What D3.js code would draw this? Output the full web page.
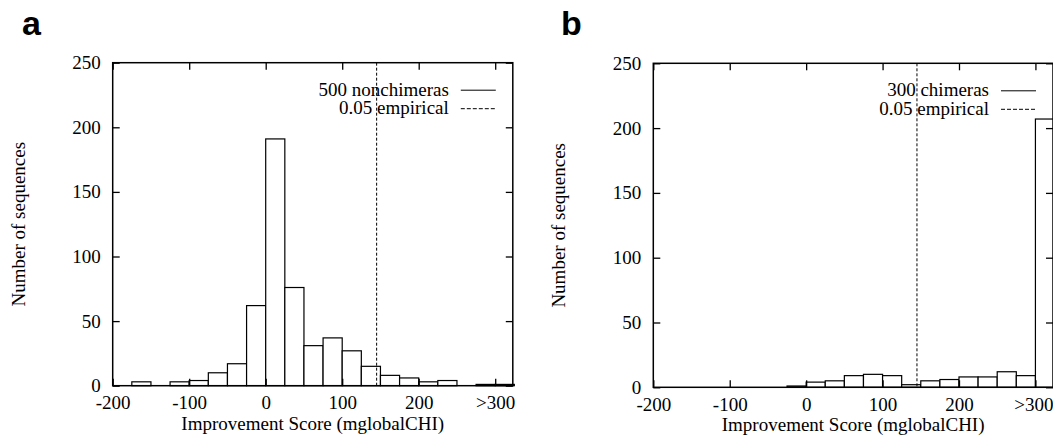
<!DOCTYPE html>
<html>
<head>
<meta charset="utf-8">
<script src="https://cdn.jsdelivr.net/npm/d3@7"></script>
<style>
  body { margin: 0; background: #fff; }
  svg { display: block; }
  text { font-family: "Liberation Serif", "Times New Roman", serif; fill: #000; }
  .panel-tag { font-family: "Liberation Sans", Arial, sans-serif; font-weight: bold; font-size: 34px; }
</style>
</head>
<body>
<svg id="chart" width="1053" height="436"></svg>
<script>
// histogram bins (width 25), last bin is ">300"
const binStarts = [-200, -175, -150, -125, -100, -75, -50, -25, 0, 25, 50, 75, 100, 125, 150, 175, 200, 225, 250, 275, 300]
const binWidth = 25
const nonchimeraCounts = [0, 3, 0, 3, 4, 10, 17, 62, 191, 76, 31, 37, 27, 15, 8, 6, 3, 4, 0, 1, 1]
const chimeraCounts = [0, 0, 0, 0, 0, 0, 0, 1, 4, 5, 9, 10, 9, 2, 5, 6, 8, 8, 12, 9, 207]

const xTicks = [-200, -100, 0, 100, 200, 300]
const xTickLabels = ["-200", "-100", "0", "100", "200", ">300"]
const yTicks = [0, 50, 100, 150, 200, 250]
const threshold = 145   // 0.05 empirical cutoff

const legendA = ["500 nonchimeras", "0.05 empirical"]
const legendB = ["300 chimeras", "0.05 empirical"]

const svg = d3.select('#chart')

const drawPanel = (p) => {
    const g = svg.append('g')

    const x = d3.scaleLinear().domain([-200, 323]).range([p.left, p.right])
    const y = d3.scaleLinear().domain([0, 250]).range([p.bottom, p.top])

    const bins = binStarts.map((b, i) => ({ start: b, count: p.counts[i] }))

    // bars
    g.selectAll('rect.bar')
        .data(bins.filter(d => d.count > 0))
        .enter()
        .append('rect')
        .attr('class', 'bar')
        .attr('x', d => x(d.start))
        .attr('width', d => x(d.start + binWidth) - x(d.start))
        .attr('y', d => y(d.count))
        .attr('height', d => y(0) - y(d.count))
        .attr('fill', '#fff')
        .attr('stroke', '#000')
        .attr('stroke-width', 1.2)

    // threshold line
    g.append('line')
        .attr('x1', x(threshold)).attr('x2', x(threshold))
        .attr('y1', p.top).attr('y2', p.bottom)
        .attr('stroke', '#000')
        .attr('stroke-width', 1)
        .attr('stroke-dasharray', '3,2')

    // axes, ticks on all four sides pointing in
    const fmt = (d) => xTickLabels[xTicks.indexOf(d)]
    const bottom = g.append('g')
        .attr('transform', `translate(0,${p.bottom})`)
        .call(d3.axisBottom(x).tickValues(xTicks).tickFormat(fmt).tickSizeInner(-7).tickSizeOuter(0).tickPadding(10))
    const top = g.append('g')
        .attr('transform', `translate(0,${p.top})`)
        .call(d3.axisTop(x).tickValues(xTicks).tickFormat('').tickSizeInner(-7).tickSizeOuter(0))
    const left = g.append('g')
        .attr('transform', `translate(${p.left},0)`)
        .call(d3.axisLeft(y).tickValues(yTicks).tickSizeInner(-7).tickSizeOuter(0).tickPadding(12))
    const right = g.append('g')
        .attr('transform', `translate(${p.right},0)`)
        .call(d3.axisRight(y).tickValues(yTicks).tickFormat('').tickSizeInner(-7).tickSizeOuter(0))

    ;[bottom, top, left, right].forEach(a => {
        a.select('.domain').remove()
        a.selectAll('line').attr('stroke', '#000').attr('stroke-width', 1.3)
        a.selectAll('text')
            .attr('fill', '#000')
            .style('font-family', '"Liberation Serif", "Times New Roman", serif')
            .style('font-size', '19px')
    })
    // keep the last label inside the page on the right panel
    if (p.right > 1040) {
        bottom.selectAll('.tick text').filter(d => d === 300).attr('dx', -2)
    }

    // frame
    g.append('rect')
        .attr('x', p.left).attr('y', p.top)
        .attr('width', p.right - p.left).attr('height', p.bottom - p.top)
        .attr('fill', 'none')
        .attr('stroke', '#000')
        .attr('stroke-width', 1.5)

    // axis titles
    g.append('text')
        .attr('x', (p.left + p.right) / 2)
        .attr('y', p.bottom + 44)
        .attr('text-anchor', 'middle')
        .style('font-size', '19px')
        .text('Improvement Score (mglobalCHI)')

    g.append('text')
        .attr('transform', `translate(${p.left - 88},${(p.top + p.bottom) / 2}) rotate(-90)`)
        .attr('text-anchor', 'middle')
        .style('font-size', '19px')
        .text('Number of sequences')

    // legend
    p.legend.forEach((label, i) => {
        const ly = p.top + 33 + i * 18.5
        g.append('text')
            .attr('x', p.right - 64)
            .attr('y', ly)
            .attr('text-anchor', 'end')
            .style('font-size', '19px')
            .text(label)
        g.append('line')
            .attr('x1', p.right - 52).attr('x2', p.right - 17)
            .attr('y1', ly - 5.5).attr('y2', ly - 5.5)
            .attr('stroke', '#000')
            .attr('stroke-width', 1)
            .attr('stroke-dasharray', i === 0 ? null : '4,2')
    })

    // panel tag
    g.append('text')
        .attr('class', 'panel-tag')
        .attr('x', p.tagX)
        .attr('y', 35)
        .text(p.tag)
}

drawPanel({ left: 112.7, right: 512.8, top: 62.7, bottom: 385.7, counts: nonchimeraCounts, legend: legendA, tag: 'a', tagX: 22 })
drawPanel({ left: 653.3, right: 1053, top: 63.3, bottom: 387.3, counts: chimeraCounts, legend: legendB, tag: 'b', tagX: 561 })
</script>
</body>
</html>
